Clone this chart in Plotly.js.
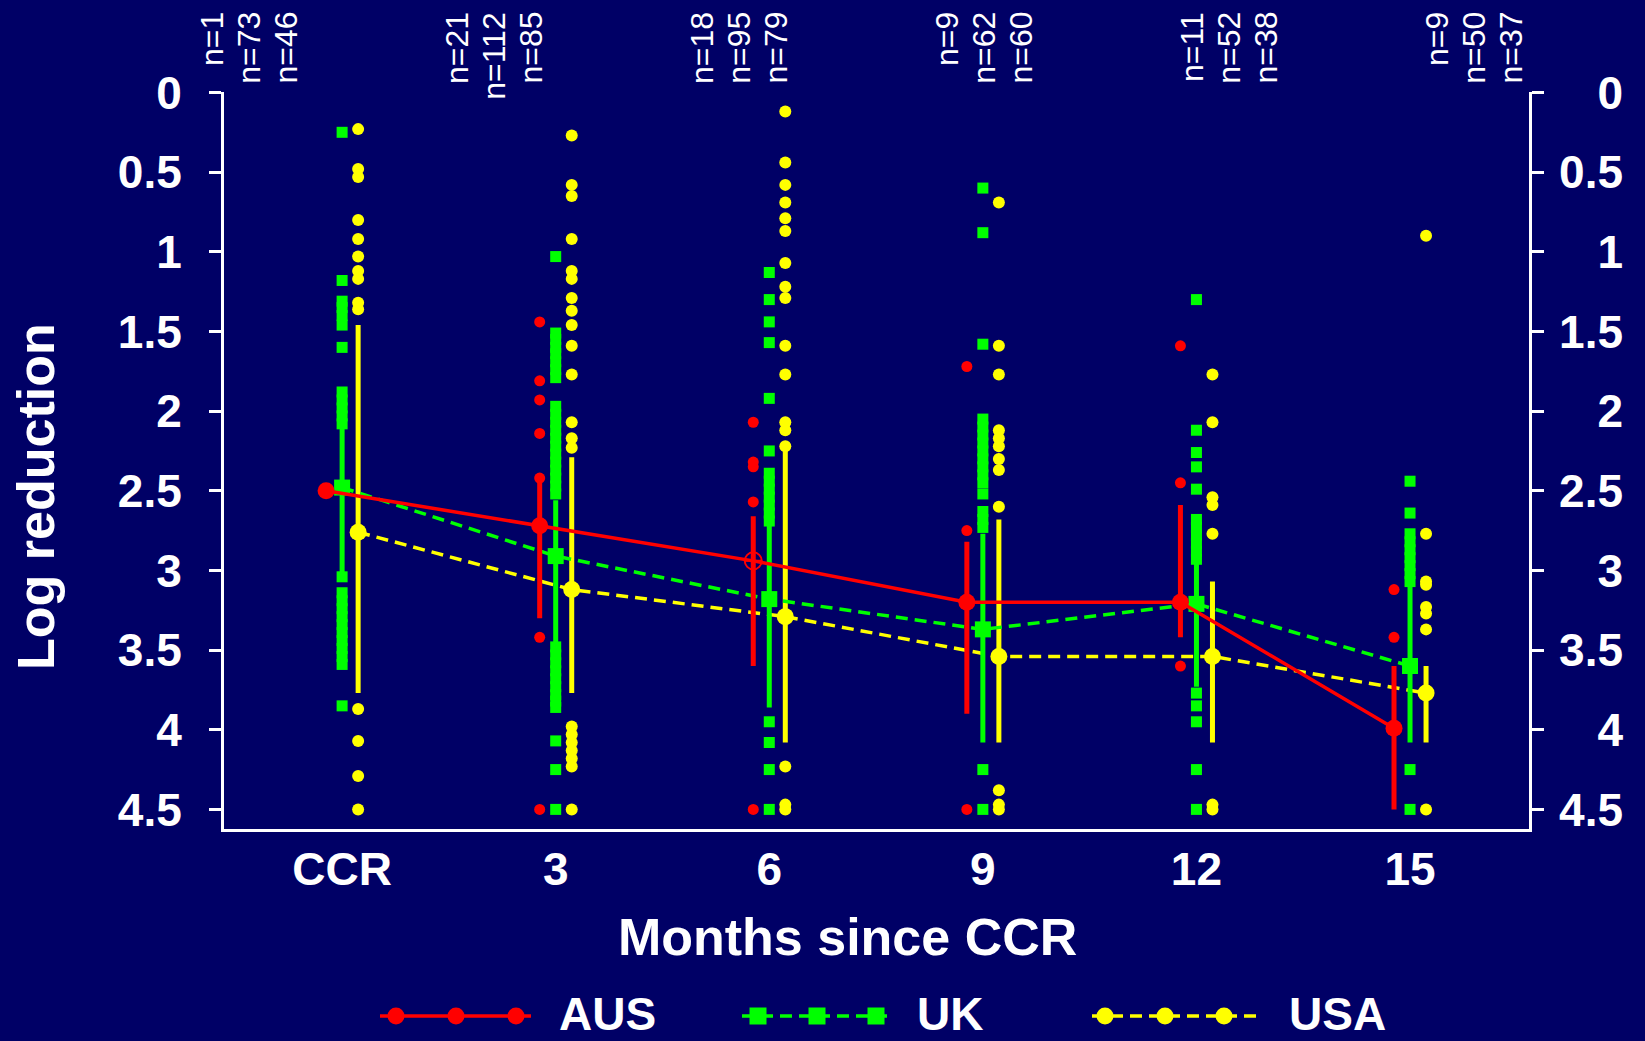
<!DOCTYPE html>
<html><head><meta charset="utf-8">
<script src="https://cdn.plot.ly/plotly-3.0.1.min.js"></script>
<style>html,body{margin:0;padding:0;background:#000066;} #chart{width:1645px;height:1041px;}</style>
</head><body><div id="chart"></div>
<script>
// ---------------- DATA ----------------
const categories = ['CCR', '3', '6', '9', '12', '15'];
const countries = ['AUS', 'UK', 'USA'];

const nAUS = [1, 21, 18, 9, 11, 9];
const nUK  = [73, 112, 95, 62, 52, 50];
const nUSA = [46, 85, 79, 60, 38, 37];

const meanAUS = [2.50, 2.72, 2.94, 3.20, 3.20, 3.99];
const lowAUS  = [null, 2.45, 2.66, 2.82, 2.59, 3.60];
const highAUS = [null, 3.30, 3.60, 3.90, 3.42, 4.50];

const meanUK = [2.48, 2.91, 3.18, 3.37, 3.21, 3.60];
const lowUK  = [2.10, 2.56, 2.70, 2.77, 2.93, 3.09];
const highUK = [3.02, 3.46, 3.86, 4.08, 3.73, 4.08];

const meanUSA = [2.76, 3.12, 3.29, 3.54, 3.54, 3.77];
const lowUSA  = [1.46, 2.29, 2.25, 2.68, 3.07, 3.60];
const highUSA = [3.77, 3.77, 4.08, 4.08, 4.08, 4.08];

const pointsAUS = [
  [2.50],
  [1.44, 1.81, 1.93, 2.14, 2.42, 3.42, 4.50],
  [2.07, 2.32, 2.35, 2.57, 4.50],
  [1.72, 2.75, 4.50],
  [1.59, 2.45, 3.60],
  [3.12, 3.42]
];
const pointsUK = [
  [0.25, 1.18, 1.31, 1.35, 1.40, 1.46, 1.60, 1.88, 1.93, 1.98, 2.03, 2.08, 3.04, 3.14, 3.19, 3.24, 3.29, 3.34, 3.39, 3.44, 3.49, 3.54, 3.59, 3.85],
  [1.03, 1.51, 1.55, 1.60, 1.64, 1.69, 1.74, 1.79, 1.97, 2.02, 2.07, 2.12, 2.17, 2.22, 2.27, 2.32, 2.37, 2.42, 2.47, 2.52, 3.48, 3.53, 3.58, 3.63, 3.68, 3.73, 3.78, 3.82, 3.86, 4.07, 4.25, 4.50],
  [1.13, 1.30, 1.44, 1.57, 1.92, 2.25, 2.39, 2.44, 2.49, 2.54, 2.59, 2.64, 2.69, 3.95, 4.08, 4.25, 4.50],
  [0.60, 0.88, 1.58, 2.05, 2.10, 2.15, 2.20, 2.25, 2.30, 2.35, 2.40, 2.45, 2.52, 2.63, 2.68, 2.73, 4.25, 4.50],
  [1.30, 2.12, 2.26, 2.35, 2.49, 2.68, 2.73, 2.78, 2.83, 2.88, 2.93, 3.77, 3.85, 3.95, 4.25, 4.50],
  [2.44, 2.64, 2.77, 2.82, 2.87, 2.92, 2.97, 3.02, 3.07, 4.25, 4.50]
];
const pointsUSA = [
  [0.23, 0.48, 0.53, 0.80, 0.92, 1.03, 1.12, 1.17, 1.32, 1.36, 3.87, 4.07, 4.29, 4.50],
  [0.27, 0.58, 0.65, 0.92, 1.12, 1.17, 1.29, 1.37, 1.46, 1.59, 1.77, 2.07, 2.17, 2.23, 3.98, 4.03, 4.08, 4.13, 4.18, 4.23, 4.50],
  [0.12, 0.44, 0.58, 0.69, 0.79, 0.87, 1.07, 1.22, 1.29, 1.59, 1.77, 2.07, 2.12, 2.22, 4.23, 4.47, 4.50],
  [0.69, 1.59, 1.77, 2.12, 2.17, 2.22, 2.30, 2.37, 2.60, 4.38, 4.47, 4.50],
  [1.77, 2.07, 2.54, 2.59, 2.77, 4.47, 4.50],
  [0.90, 2.77, 3.07, 3.09, 3.23, 3.27, 3.37, 4.50]
];

const yTickVals = [0, 0.5, 1, 1.5, 2, 2.5, 3, 3.5, 4, 4.5];
const yTickText = ['0', '0.5', '1', '1.5', '2', '2.5', '3', '3.5', '4', '4.5'];

// ---------------- LAYOUT / STYLE ----------------
const W = 1645, H = 1041;
const BG = '#000066';
const FONT = 'Liberation Sans, Arial, Helvetica, sans-serif';
const plotBox = {left: 224, right: 1529, top: 92, bottom: 829};
const xRange = [-0.553, 5.557];
const yRange = [4.623, -0.003];
const seriesStyle = {
  AUS: {color: '#FF0000', offset: -0.075, sym: 'circle', ptSize: 11, dash: 'solid'},
  UK:  {color: '#00FF00', offset: 0, sym: 'square', ptSize: 11, dash: '12px,7px'},
  USA: {color: '#FFFF00', offset: 0.075, sym: 'circle', ptSize: 12, dash: '12px,7px'}
};
// n-label placement (pixels)
const nLabel = {start: 212, groupStep: 245, itemStep: 36.8, top: 10, size: 32};
// custom legend placement (pixels)
const legendItems = [
  {name: 'AUS', line: [380, 531], marks: [396, 456, 516], textX: 558},
  {name: 'UK',  line: [742, 891], marks: [758, 817, 876], textX: 916},
  {name: 'USA', line: [1092, 1256], marks: [1105, 1165, 1224], textX: 1288}
];
const legendY = 1016;
const NB = '&nbsp;';

function pointTrace(points, st) {
  const x = [], y = [];
  points.forEach((arr, g) => arr.forEach(v => { x.push(g + st.offset); y.push(v); }));
  return {type: 'scatter', mode: 'markers', x: x, y: y, showlegend: false, hoverinfo: 'y',
    marker: {color: st.color, symbol: st.sym, size: st.ptSize}};
}
function meanTrace(name, mean, low, high, st, symbols, lineWidths) {
  return {type: 'scatter', mode: 'lines+markers', name: name,
    x: mean.map((_, g) => g + st.offset), y: mean, showlegend: false,
    line: {color: st.color, width: 3.5, dash: st.dash},
    marker: {color: st.color, size: st.sym === 'square' ? 16 : 17, symbol: symbols,
      line: {color: st.color, width: lineWidths}},
    error_y: {type: 'data', symmetric: false,
      array: high.map((h, i) => h == null ? 0 : h - mean[i]),
      arrayminus: low.map((l, i) => l == null ? 0 : mean[i] - l),
      color: st.color, thickness: 5, width: 0}
  };
}

const traces = [
  pointTrace(pointsAUS, seriesStyle.AUS),
  pointTrace(pointsUK, seriesStyle.UK),
  pointTrace(pointsUSA, seriesStyle.USA),
  meanTrace('USA', meanUSA, lowUSA, highUSA, seriesStyle.USA, 'circle', 0),
  meanTrace('UK', meanUK, lowUK, highUK, seriesStyle.UK, 'square', 0),
  meanTrace('AUS', meanAUS, lowAUS, highAUS, seriesStyle.AUS,
    ['circle', 'circle', 'circle-cross-open', 'circle', 'circle', 'circle'], [0, 0, 2, 0, 0, 0])
];

// custom legend glyphs drawn on a full-page overlay axis
legendItems.forEach(it => {
  const st = seriesStyle[it.name];
  traces.push({type: 'scatter', mode: 'lines', xaxis: 'x2', yaxis: 'y4', x: it.line, y: [legendY, legendY],
    line: {color: st.color, width: 3.5, dash: st.dash}, showlegend: false, hoverinfo: 'skip', cliponaxis: false});
  traces.push({type: 'scatter', mode: 'markers', xaxis: 'x2', yaxis: 'y4', x: it.marks, y: it.marks.map(() => legendY),
    marker: {color: st.color, symbol: st.sym, size: 17}, showlegend: false, hoverinfo: 'skip', cliponaxis: false});
});

const tickFont = {family: FONT, size: 46, color: 'white', weight: 'bold'};
const annotations = [];
[nAUS, nUK, nUSA].forEach((arr, k) => arr.forEach((n, g) => {
  annotations.push({xref: 'paper', yref: 'paper',
    x: (nLabel.start + g * nLabel.groupStep + k * nLabel.itemStep) / W,
    y: (H - nLabel.top) / H, xanchor: 'center', yanchor: 'top', textangle: -90,
    text: 'n=' + n, showarrow: false, font: {family: FONT, size: nLabel.size, color: 'white'}});
}));
legendItems.forEach(it => {
  annotations.push({xref: 'x2', yref: 'paper', x: it.textX, y: 0, xanchor: 'left', yanchor: 'bottom',
    text: it.name, showarrow: false, borderpad: 0, font: {family: FONT, size: 46, color: 'white', weight: 'bold'}});
});

const yCommon = {range: yRange, tickvals: yTickVals, ticktext: yTickText, showgrid: false, zeroline: false, fixedrange: true};

const layout = {
  width: W, height: H,
  margin: {l: 0, r: 0, t: 0, b: 0},
  paper_bgcolor: BG, plot_bgcolor: 'rgba(0,0,0,0)',
  showlegend: false,
  font: {family: FONT, color: 'white'},
  xaxis: {domain: [plotBox.left / W, plotBox.right / W], range: xRange, anchor: 'y',
    tickvals: categories.map((_, i) => i), ticktext: categories,
    showline: true, linecolor: 'white', linewidth: 3, ticks: '', showgrid: false, zeroline: false,
    tickfont: tickFont, ticklabelstandoff: -2, fixedrange: true,
    title: {text: 'Months since CCR' + NB.repeat(4), font: {family: FONT, size: 52, color: 'white', weight: 'bold'}, standoff: 25}},
  yaxis: Object.assign({}, yCommon, {domain: [(H - plotBox.bottom) / H, (H - plotBox.top) / H], anchor: 'x',
    side: 'left', showline: true, linecolor: 'white', linewidth: 3,
    ticks: 'outside', ticklen: 12, tickwidth: 3, tickcolor: 'white', tickfont: tickFont, ticklabelstandoff: 18,
    title: {text: 'Log reduction' + NB.repeat(5), font: {family: FONT, size: 52, color: 'white', weight: 'bold'}, standoff: 47}}),
  yaxis2: Object.assign({}, yCommon, {overlaying: 'y', side: 'right', anchor: 'x',
    showline: true, linecolor: 'white', linewidth: 3, ticks: 'outside', ticklen: 12, tickwidth: 3, tickcolor: 'white',
    showticklabels: false}),
  yaxis3: Object.assign({}, yCommon, {overlaying: 'y', side: 'left', anchor: 'free', position: 1623 / W,
    showline: false, ticks: '', tickfont: tickFont}),
  xaxis2: {domain: [0, 1], range: [0, W], anchor: 'y4', visible: false, fixedrange: true},
  yaxis4: {domain: [0, 1], range: [H, 0], anchor: 'x2', visible: false, fixedrange: true},
  annotations: annotations
};

// dummy traces to activate the extra y axes
traces.push({type: 'scatter', mode: 'markers', x: [], y: [], yaxis: 'y2', showlegend: false, hoverinfo: 'skip'});
traces.push({type: 'scatter', mode: 'markers', x: [], y: [], yaxis: 'y3', showlegend: false, hoverinfo: 'skip'});

Plotly.newPlot('chart', traces, layout, {staticPlot: true, displayModeBar: false});
</script>
</body></html>
